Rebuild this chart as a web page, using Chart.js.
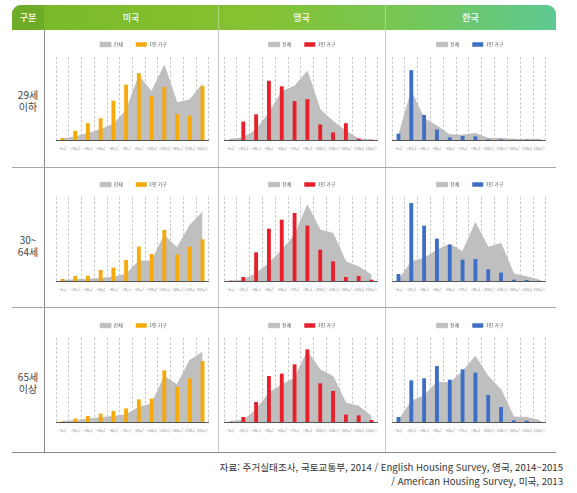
<!DOCTYPE html>
<html lang="ko">
<head>
<meta charset="utf-8">
<script src="https://cdn.jsdelivr.net/npm/chart.js@4.4.0/dist/chart.umd.min.js"></script>
<style>
  body { margin: 0; background: #fff; font-family: "Noto Sans CJK KR", sans-serif; }
  #wrap { position: relative; width: 577px; height: 493px; overflow: hidden; }
  .head { position: absolute; left: 12px; top: 5px; width: 544px; height: 25px; border-radius: 9px 9px 0 0;
    background: linear-gradient(to right, #78b829 0%, #86c232 45%, #74c75a 75%, #5ec993 100%); overflow: hidden; }
  .head .first { position: absolute; left: 0; top: 0; width: 32px; height: 25px; background: #6eac28; }
  .hl { position: absolute; top: 5px; height: 25px; line-height: 25px; color: #fff; font-size: 9px; font-weight: 500; text-align: center; }
  .hdiv { position: absolute; top: 5px; height: 25px; width: 1px; background: rgba(255,255,255,0.35); }
  .vline { position: absolute; top: 30px; height: 422px; width: 1px; background: #c8c8c8; }
  .hline { position: absolute; left: 12px; width: 544px; height: 1px; background: #a8a8a8; }
  .row { position: absolute; left: 12px; width: 32px; text-align: center; font-size: 10px; line-height: 12px; color: #444; }
  .foot { position: absolute; right: 14px; font-size: 9.6px; color: #333; white-space: nowrap; }
  canvas { position: absolute; }
</style>
</head>
<body>
<div id="wrap">
  <div class="head"><div class="first"></div></div>
  <div class="hdiv" style="left:218px"></div>
  <div class="hdiv" style="left:385px"></div>
  <div class="hl" style="left:12px;width:32px">구분</div>
  <div class="hl" style="left:44px;width:174px">미국</div>
  <div class="hl" style="left:218px;width:167px">영국</div>
  <div class="hl" style="left:385px;width:171px">한국</div>

  <div class="vline" style="left:44px;background:#8c8c8c"></div>
  <div class="vline" style="left:218px"></div>
  <div class="vline" style="left:385px"></div>
  <div class="hline" style="top:167px"></div>
  <div class="hline" style="top:307px"></div>
  <div class="hline" style="top:452px;background:#888"></div>

  <div class="row" style="top:89px">29세<br>이하</div>
  <div class="row" style="top:234px">30~<br>64세</div>
  <div class="row" style="top:371px">65세<br>이상</div>

  <div class="foot" style="top:460px">자료: 주거실태조사, 국토교통부, 2014 / English Housing Survey, 영국, 2014~2015</div>
  <div class="foot" style="top:474px">/ American Housing Survey, 미국, 2013</div>
</div>

<script>
const sizeLabels = ["~5㎡", "~30㎡", "~40㎡", "~50㎡", "~60㎡", "~70㎡", "~85㎡", "~100㎡", "~130㎡", "~165㎡", "~230㎡", "230㎡~"];
const seriesNames = ["전체", "1인 가구"];

// 29세 이하
const usAllYoung = [3, 10, 20, 32, 48, 90, 195, 147, 227, 113, 122, 170];
const usSingleYoung = [5, 27, 50, 65, 118, 167, 202, 132, 160, 78, 73, 163];
const ukAllYoung = [2, 7, 32, 82, 147, 164, 209, 92, 57, 27, 4, 0];
const ukSingleYoung = [0, 55, 77, 179, 162, 117, 123, 46, 22, 50, 3, 0];
const krAllYoung = [13, 148, 65, 43, 16, 15, 20, 5, 5, 2, 2, 2];
const krSingleYoung = [18, 211, 75, 31, 7, 11, 10, 1, 1, 0, 0, 0];

// 30~64세
const usAllMid = [2, 4, 5, 8, 12, 20, 60, 60, 137, 100, 167, 207];
const usSingleMid = [5, 14, 15, 32, 39, 62, 102, 80, 152, 79, 102, 124];
const ukAllMid = [0, 3, 23, 53, 93, 138, 228, 153, 143, 58, 43, 18];
const ukSingleMid = [0, 11, 85, 156, 183, 203, 165, 93, 58, 11, 14, 3];
const krAllMid = [3, 58, 68, 93, 111, 88, 175, 101, 113, 21, 13, 3];
const krSingleMid = [20, 233, 165, 126, 108, 63, 65, 34, 24, 3, 2, 0];

// 65세 이상
const usAllOld = [2, 4, 10, 13, 17, 22, 45, 54, 137, 112, 185, 210];
const usSingleOld = [1, 9, 17, 24, 32, 40, 67, 69, 154, 104, 130, 182];
const ukAllOld = [2, 5, 37, 87, 112, 132, 212, 157, 137, 57, 47, 17];
const ukSingleOld = [0, 14, 59, 137, 144, 172, 217, 115, 92, 21, 19, 5];
const krAllOld = [4, 62, 79, 120, 117, 152, 197, 137, 97, 15, 14, 5];
const krSingleOld = [14, 124, 130, 167, 126, 157, 147, 80, 44, 4, 3, 0];

const colors = { us: "#f6a908", uk: "#e8202b", kr: "#3e6fc6" };
const cols = [{ left: 52, width: 163 }, { left: 220, width: 164 }, { left: 388, width: 164 }];
const rows = [{ top: 57, height: 83 }, { top: 197, height: 84 }, { top: 338, height: 84 }];
const axisHeight = 14;

const panels = [
  [0, 0, usAllYoung, usSingleYoung, colors.us],
  [1, 0, ukAllYoung, ukSingleYoung, colors.uk],
  [2, 0, krAllYoung, krSingleYoung, colors.kr],
  [0, 1, usAllMid, usSingleMid, colors.us],
  [1, 1, ukAllMid, ukSingleMid, colors.uk],
  [2, 1, krAllMid, krSingleMid, colors.kr],
  [0, 2, usAllOld, usSingleOld, colors.us],
  [1, 2, ukAllOld, ukSingleOld, colors.uk],
  [2, 2, krAllOld, krSingleOld, colors.kr],
];

const wrap = document.getElementById("wrap");
panels.forEach(([c, r, all, single, color]) => makePanel(cols[c], rows[r], all, single, color));

function makePanel(col, row, all, single, color) {
  const canvas = document.createElement("canvas");
  canvas.width = col.width;
  canvas.height = 40 + row.height + axisHeight;
  canvas.style.left = col.left + "px";
  wrap.appendChild(canvas);

  const chart = new Chart(canvas, {
    data: {
      labels: sizeLabels,
      datasets: [
        {
          type: "line",
          label: seriesNames[0],
          data: all,
          fill: "origin",
          backgroundColor: "#bfbfbf",
          borderColor: "#b2b2b2",
          borderWidth: 0.6,
          pointRadius: 0,
          tension: 0,
          order: 2,
        },
        {
          type: "bar",
          label: seriesNames[1],
          data: single,
          backgroundColor: color,
          barThickness: 3.2,
          order: 1,
        },
      ],
    },
    options: {
      responsive: false,
      animation: false,
      maintainAspectRatio: false,
      layout: { padding: 0 },
      plugins: {
        legend: {
          labels: {
            font: { size: 5, family: "Noto Sans CJK KR" },
            color: "#555",
            boxWidth: 11,
            boxHeight: 4.5,
            padding: 13,
            sort: (a, b) => a.datasetIndex - b.datasetIndex,
          },
        },
        tooltip: { enabled: false },
      },
      scales: {
        x: {
          offset: true,
          grid: { display: true, drawTicks: false, color: "#a0a0a0", lineWidth: 0.6, offset: true },
          border: { display: true, color: "#555", width: 1, dash: [2.5, 2] },
          ticks: { font: { size: 3.5, family: "Noto Sans CJK KR" }, color: "#888", padding: 7, maxRotation: 0, autoSkip: false },
          afterFit: (scale) => { scale.height = axisHeight; },
        },
        y: { display: false, min: 0, max: 252 },
      },
    },
  });

  // line the plot area up with the table row
  const legendH = chart.chartArea.top;
  canvas.style.top = (row.top - legendH) + "px";
  chart.resize(col.width, legendH + row.height + axisHeight);
}
</script>
</body>
</html>
